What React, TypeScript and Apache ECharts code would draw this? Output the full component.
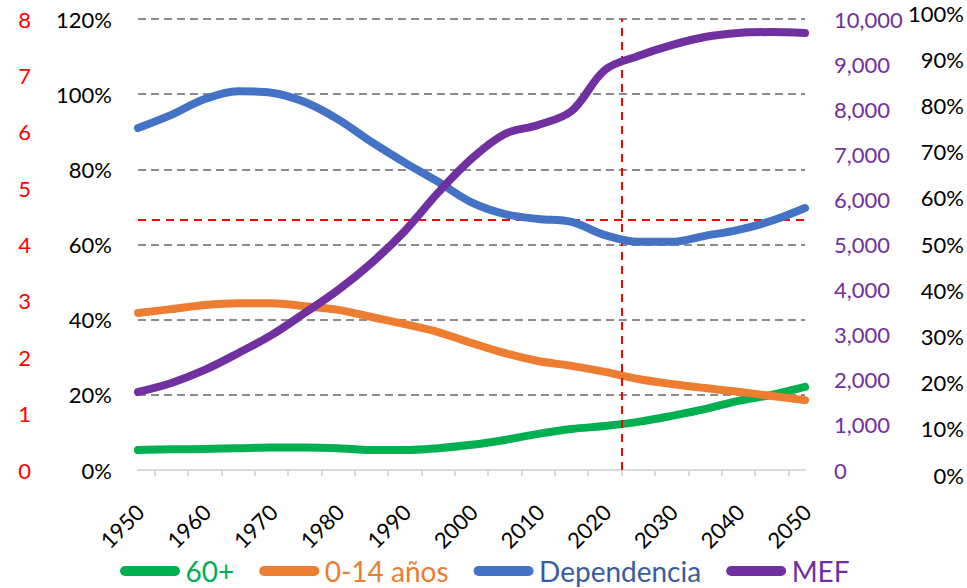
import React, { useEffect, useRef } from "react";
import * as echarts from "echarts";

const years = ["1950","1955","1960","1965","1970","1975","1980","1985","1990","1995","2000","2005","2010","2015","2020","2025","2030","2035","2040","2045","2050"];
const mayores60 = [5.3,5.5,5.6,5.8,6.0,6.0,5.8,5.3,5.3,5.8,6.7,8.0,9.6,10.9,11.7,12.8,14.4,16.2,18.4,20.0,22.1];
const menores14 = [41.8,42.8,43.9,44.4,44.4,43.6,42.6,40.7,38.8,36.7,33.8,31.1,29.0,27.7,26.1,24.2,22.9,21.8,20.8,19.7,18.6];
const dependencia = [91.0,94.5,98.7,100.8,100.4,97.9,93.3,87.3,81.8,76.7,71.2,68.1,66.8,66.0,62.5,60.7,60.7,62.3,63.9,66.3,69.7];
const mef = [1730,1930,2220,2590,2990,3480,3990,4590,5300,6150,6900,7450,7650,7960,8870,9180,9420,9600,9690,9710,9690];

const seriesNames = ["60+", "0-14 años", "Dependencia", "MEF"];
const seriesColors = ["#00B050", "#ED7D31", "#4472C4", "#7030A0"];
const legendTextColors = ["#00B050", "#ED7D31", "#3A5BA0", "#7030A0"];

const refLineYear = 2022.5;
const refLinePct = 66.7;

const FONT = "Lato";

export default function App() {
  const ref = useRef<HTMLDivElement>(null);
  useEffect(() => {
    if (!ref.current) return;
    const chart = echarts.init(ref.current, undefined, { renderer: "svg" });
    const tickBands = years.slice(1).map(() => "");
    const lineSeries = (name: string, data: number[], idx: number, yIdx: number) => ({
      name,
      type: "line",
      xAxisIndex: 0,
      yAxisIndex: yIdx,
      data,
      smooth: 0.35,
      showSymbol: false,
      color: seriesColors[idx],
      lineStyle: { width: 8, color: seriesColors[idx], cap: "round", join: "round" },
      z: 3 + idx,
    });
    chart.setOption({
      animation: false,
      textStyle: { fontFamily: FONT },
      grid: [
        { left: 138, top: 19, width: 667, height: 451, containLabel: false },
        { left: 900, top: 13, width: 40, height: 462, containLabel: false },
        { left: 140, top: 19, width: 667, height: 451, containLabel: false },
      ],
      legend: {
        left: 120,
        top: 557,
        padding: 0,
        itemWidth: 61,
        itemHeight: 10,
        itemGap: 25,
        icon: "path://M5,0 H55 A5,5 0 0 1 55,10 H5 A5,5 0 0 1 5,0 Z",
        textStyle: { fontFamily: FONT, fontSize: 28 },
        data: seriesNames.map((n, i) => ({ name: n, textStyle: { color: legendTextColors[i] } })),
      },
      xAxis: [
        {
          type: "category",
          gridIndex: 0,
          data: years,
          boundaryGap: false,
          position: "bottom",
          axisLine: { show: false },
          axisTick: { show: false },
          axisLabel: { show: false },
          splitLine: { show: false },
        },
        {
          type: "category",
          gridIndex: 0,
          data: tickBands,
          boundaryGap: true,
          position: "bottom",
          axisLine: { show: true, lineStyle: { color: "#d9d9d9", width: 2 } },
          axisTick: { show: true, alignWithLabel: true, interval: 0, length: 6, lineStyle: { color: "#d9d9d9", width: 2 } },
          axisLabel: { show: false },
          splitLine: { show: false },
        },
        { type: "value", gridIndex: 0, min: 1950, max: 2050, show: false },
        { type: "value", gridIndex: 1, min: 0, max: 1, show: false },
        {
          type: "category",
          gridIndex: 2,
          data: years,
          boundaryGap: false,
          position: "bottom",
          axisLine: { show: false },
          axisTick: { show: false },
          axisLabel: {
            interval: 1,
            rotate: 45,
            margin: 38,
            fontSize: 22,
            color: "#000",
            fontFamily: FONT,
          },
          splitLine: { show: false },
        },
      ],
      yAxis: [
        {
          type: "value",
          gridIndex: 0,
          position: "left",
          offset: 99,
          min: 0,
          max: 8,
          interval: 1,
          axisLine: { show: false },
          axisTick: { show: false },
          splitLine: { show: false },
          axisLabel: { color: "#FF0000", fontSize: 22, margin: 8, fontFamily: FONT },
        },
        {
          type: "value",
          gridIndex: 0,
          position: "left",
          min: 0,
          max: 120,
          interval: 20,
          axisLine: { show: false },
          axisTick: { show: false },
          axisLabel: { color: "#000", fontSize: 22, margin: 26, formatter: "{value}%", fontFamily: FONT },
          splitLine: {
            show: true,
            showMinLine: false,
            lineStyle: { color: "#8c8c8c", width: 2, type: [8, 5] },
          },
        },
        {
          type: "value",
          gridIndex: 0,
          position: "right",
          min: 0,
          max: 10000,
          interval: 1000,
          axisLine: { show: false },
          axisTick: { show: false },
          splitLine: { show: false },
          axisLabel: {
            color: "#7030A0",
            fontSize: 22,
            margin: 29,
            fontFamily: FONT,
            formatter: (v: number) => v.toLocaleString("en-US"),
          },
        },
        {
          type: "value",
          gridIndex: 1,
          position: "right",
          min: 0,
          max: 100,
          interval: 10,
          axisLine: { show: false },
          axisTick: { show: false },
          splitLine: { show: false },
          axisLabel: { color: "#000", fontSize: 22, margin: 26, align: "right", formatter: "{value}%", fontFamily: FONT },
        },
        { type: "value", gridIndex: 2, min: 0, max: 1, show: false },
      ],
      series: [
        {
          name: "ref",
          type: "line",
          xAxisIndex: 2,
          yAxisIndex: 1,
          data: [],
          silent: true,
          z: 10,
          markLine: {
            silent: true,
            symbol: ["none", "none"],
            label: { show: false },
            lineStyle: { color: "#FF0000", width: 2, type: [8, 6] },
            data: [{ xAxis: refLineYear }, { yAxis: refLinePct }],
          },
        },
        lineSeries(seriesNames[0], mayores60, 0, 1),
        lineSeries(seriesNames[1], menores14, 1, 1),
        lineSeries(seriesNames[2], dependencia, 2, 1),
        lineSeries(seriesNames[3], mef, 3, 2),
      ],
    });
    return () => chart.dispose();
  }, []);
  return (
    <div
      ref={ref}
      style={{ position: "fixed", left: 0, top: 0, width: 967, height: 588, background: "#fff" }}
    />
  );
}
